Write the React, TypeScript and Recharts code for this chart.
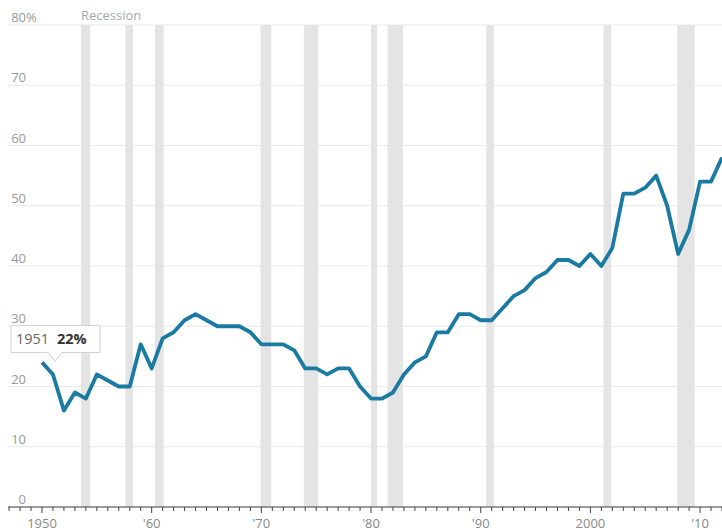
import React from "react";
import {
  LineChart,
  Line,
  XAxis,
  YAxis,
  CartesianGrid,
  ReferenceArea,
  ReferenceDot,
} from "recharts";

const years: number[] = [
  1950, 1951, 1952, 1953, 1954, 1955, 1956, 1957, 1958, 1959,
  1960, 1961, 1962, 1963, 1964, 1965, 1966, 1967, 1968, 1969,
  1970, 1971, 1972, 1973, 1974, 1975, 1976, 1977, 1978, 1979,
  1980, 1981, 1982, 1983, 1984, 1985, 1986, 1987, 1988, 1989,
  1990, 1991, 1992, 1993, 1994, 1995, 1996, 1997, 1998, 1999,
  2000, 2001, 2002, 2003, 2004, 2005, 2006, 2007, 2008, 2009,
  2010, 2011, 2012,
];

const shares: number[] = [
  24, 22, 16, 19, 18, 22, 21, 20, 20, 27,
  23, 28, 29, 31, 32, 31, 30, 30, 30, 29,
  27, 27, 27, 26, 23, 23, 22, 23, 23, 20,
  18, 18, 19, 22, 24, 25, 29, 29, 32, 32,
  31, 31, 33, 35, 36, 38, 39, 41, 41, 40,
  42, 40, 43, 52, 52, 53, 55, 50, 42, 46,
  54, 54, 58,
];

const recessionStarts: number[] = [1953.55, 1957.6, 1960.3, 1969.92, 1973.87, 1980.0, 1981.5, 1990.5, 2001.2, 2007.92];
const recessionEnds: number[] = [1954.4, 1958.3, 1961.1, 1970.9, 1975.2, 1980.55, 1982.9, 1991.2, 2001.9, 2009.5];

const yTicks: number[] = [0, 10, 20, 30, 40, 50, 60, 70, 80];
const decadeLabels: Record<number, string> = {
  1950: "1950",
  1960: "'60",
  1970: "'70",
  1980: "'80",
  1990: "'90",
  2000: "2000",
  2010: "'10",
};
const xTicks: number[] = [];
for (let y = 1947; y <= 2012; y++) xTicks.push(y);

const highlightYear = 1951;
const highlightValue = 22;

const data = years.map((year, i) => ({ year, value: shares[i] }));

const FONT = "'Open Sans', 'DejaVu Sans', sans-serif";

const XTick = (props: any) => {
  const { x, y, payload } = props;
  const v = payload.value as number;
  const label = decadeLabels[v];
  const major = label !== undefined;
  return (
    <g>
      <line x1={x} x2={x} y1={y} y2={y + (major ? 6 : 4)} stroke="#444" strokeWidth={1} />
      {major && (
        <text x={x} y={y + 21} textAnchor="middle" fill="#888" fontSize={13} fontFamily={FONT}>
          {label}
        </text>
      )}
    </g>
  );
};

const YTick = (props: any) => {
  const { x, y, payload } = props;
  const v = payload.value as number;
  return (
    <g>
      <text x={x + 18} y={y - 3} textAnchor="end" fill="#999" fontSize={13} fontFamily={FONT}>
        {v}
      </text>
      {v === 80 && (
        <text x={x + 18} y={y - 3} textAnchor="start" fill="#999" fontSize={13} fontFamily={FONT}>
          %
        </text>
      )}
    </g>
  );
};

const TipShape = (props: any) => {
  const { cx, cy } = props;
  if (cx == null || cy == null) return null;
  const left = cx - 42;
  const right = cx + 47;
  const top = cy - 49;
  const bottom = cy - 22;
  const tipY = cy - 13;
  const path = `M${left},${top} H${right} V${bottom} H${cx + 9} L${cx + 2},${tipY} L${cx - 5},${bottom} H${left} Z`;
  return (
    <g>
      <path d={path} fill="#fff" fillOpacity={0.95} stroke="#d0d0d0" strokeWidth={1} />
      <text x={left + 5} y={bottom - 8} fill="#666" fontSize={14.5} fontFamily={FONT}>
        {highlightYear}
      </text>
      <text x={left + 46} y={bottom - 8} fill="#333" fontSize={14.5} fontWeight="bold" fontFamily={FONT}>
        {highlightValue}%
      </text>
    </g>
  );
};

const RecessionLabel = (props: any) => {
  const { viewBox } = props;
  if (!viewBox) return null;
  return (
    <text x={viewBox.x} y={viewBox.y - 5} fill="#aaa" fontSize={13} fontFamily={FONT}>
      Recession
    </text>
  );
};

export default function App() {
  return (
    <div style={{ position: "absolute", left: 0, top: 0, width: 722, height: 531, background: "#fff" }}>
      <LineChart
        width={722}
        height={531}
        data={data}
        margin={{ top: 25, right: 0, left: -22, bottom: 0 }}
      >
        <CartesianGrid vertical={false} stroke="#e9e9e9" strokeWidth={1} />
        {recessionStarts.map((s, i) => (
          <ReferenceArea
            key={i}
            x1={s}
            x2={recessionEnds[i]}
            y1={0}
            y2={80}
            fill="#e4e4e4"
            fillOpacity={1}
            stroke="none"
            label={i === 0 ? <RecessionLabel /> : undefined}
          />
        ))}
        <XAxis
          dataKey="year"
          type="number"
          domain={[1946.9, 2012]}
          ticks={xTicks}
          interval={0}
          allowDataOverflow
          height={24}
          tickSize={0}
          tickMargin={0}
          tickLine={false}
          axisLine={{ stroke: "#444", strokeWidth: 1 }}
          tick={<XTick />}
        />
        <YAxis
          type="number"
          domain={[0, 80]}
          ticks={yTicks}
          interval={0}
          width={30}
          tickSize={0}
          tickMargin={0}
          axisLine={false}
          tickLine={false}
          tick={<YTick />}
        />
        <Line
          type="linear"
          dataKey="value"
          stroke="#1a7aa2"
          strokeWidth={3.8}
          dot={false}
          activeDot={false}
          isAnimationActive={false}
          strokeLinejoin="round"
        />
        <ReferenceDot x={highlightYear} y={highlightValue} r={0} shape={<TipShape />} />
      </LineChart>
    </div>
  );
}
